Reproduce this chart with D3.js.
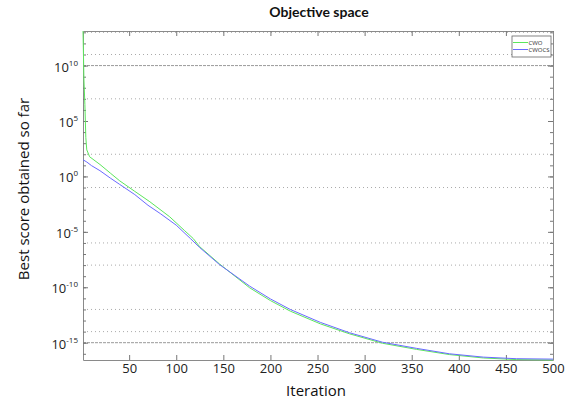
<!DOCTYPE html>
<html>
<head>
<meta charset="utf-8">
<script src="https://cdn.jsdelivr.net/npm/d3@7"></script>
<style>
body { margin: 0; background: #fff; }
text { font-family: "Open Sans", "Noto Sans", sans-serif; }
</style>
</head>
<body>
<script>
// data
var cwoIter  = [1, 2, 3, 4, 5, 6, 8, 19, 30, 40, 56, 72, 93, 109, 118, 125, 146, 178, 200, 221, 253, 284, 319, 355, 390, 426, 461, 500];
var cwoScore = [1.3e13, 5e8, 3.2e6, 3.2e3, 250, 160, 60, 12, 2.0, 0.4, 0.045, 5.2e-3, 2.3e-4, 1.26e-5, 2.5e-6, 4.5e-7, 1.26e-8, 8.9e-11, 6.3e-12, 7.1e-13, 5.0e-14, 6.3e-15, 8.9e-16, 2.5e-16, 8.5e-17, 4.2e-17, 3.0e-17, 2.75e-17];
var cwocsIter  = [1, 5, 10, 19, 30, 40, 56, 70, 83, 100, 115, 125, 146, 178, 200, 221, 253, 284, 319, 355, 390, 426, 461, 500];
var cwocsScore = [32, 20, 9.5, 3.3, 0.71, 0.19, 0.023, 2.5e-3, 4.5e-4, 4.0e-5, 2.5e-6, 3.8e-7, 1.1e-8, 1.26e-10, 8.9e-12, 1.0e-12, 6.8e-14, 7.9e-15, 1.1e-15, 3.1e-16, 1.0e-16, 5.0e-17, 3.6e-17, 3.3e-17];
var xTicks = [50, 100, 150, 200, 250, 300, 350, 400, 450, 500];
var yMajor = [1e10, 1e5, 1e0, 1e-5, 1e-10, 1e-15];
var yMajorExp = ["10", "5", "0", "-5", "-10", "-15"];
var gridDashed = [1e10, 1e-15];
var gridDotted = [1e13, 1e11, 1e7, 1e2, 1e-1, 1e-6, 1e-8, 1e-12, 1e-14];
var legendNames = ["CWO", "CWOCS"];
var legendColors = ["#5ce65c", "#6a6aff"];

var width = 569, height = 405;
var pLeft = 83, pRight = 553, pTop = 31, pBottom = 360;

var svg = d3.select("body").append("svg")
    .attr("width", width)
    .attr("height", height);

var x = d3.scaleLinear().domain([1, 500]).range([pLeft, pRight]);
var y = d3.scaleLog().domain([2.75e-17, 1.32e13]).range([pBottom, pTop]);

var yMinor = d3.range(-16, 14).map(function(e) { return Math.pow(10, e); });

// grid
svg.selectAll(".gdot").data(gridDotted).enter().append("line")
    .attr("x1", pLeft).attr("x2", pRight)
    .attr("y1", function(d) { return y(d); }).attr("y2", function(d) { return y(d); })
    .attr("stroke", "#aaa").attr("stroke-width", 1).attr("stroke-dasharray", "1,3");
svg.selectAll(".gdash").data(gridDashed).enter().append("line")
    .attr("x1", pLeft).attr("x2", pRight)
    .attr("y1", function(d) { return y(d); }).attr("y2", function(d) { return y(d); })
    .attr("stroke", "#999").attr("stroke-width", 1).attr("stroke-dasharray", "3,1");

// axes
function styleAxis(g) {
  g.select(".domain").attr("stroke", "#8a8a8a");
  g.selectAll(".tick line").attr("stroke", "#777");
  g.selectAll("text").attr("fill", "#222").style("font-size", "13px")
      .style("font-family", "'Open Sans', sans-serif");
}

svg.append("g").attr("transform", "translate(0," + pBottom + ")")
    .call(d3.axisBottom(x).tickValues(xTicks).tickSize(-5).tickSizeOuter(0).tickPadding(4))
    .call(styleAxis);
svg.append("g").attr("transform", "translate(0," + pTop + ")")
    .call(d3.axisTop(x).tickValues(xTicks).tickSize(-5).tickSizeOuter(0).tickFormat(""))
    .call(styleAxis);

svg.append("g").attr("transform", "translate(" + pLeft + ",0)")
    .call(d3.axisLeft(y).tickValues(yMinor).tickSize(-3).tickSizeOuter(0).tickFormat(""))
    .call(styleAxis);
svg.append("g").attr("transform", "translate(" + pLeft + ",0)")
    .call(d3.axisLeft(y).tickValues(yMajor).tickSize(-5).tickSizeOuter(0).tickFormat(""))
    .call(styleAxis).select(".domain").remove();
svg.append("g").attr("transform", "translate(" + pRight + ",0)")
    .call(d3.axisRight(y).tickValues(yMinor).tickSize(-3).tickSizeOuter(0).tickFormat(""))
    .call(styleAxis);
svg.append("g").attr("transform", "translate(" + pRight + ",0)")
    .call(d3.axisRight(y).tickValues(yMajor).tickSize(-5).tickSizeOuter(0).tickFormat(""))
    .call(styleAxis).select(".domain").remove();

// y tick labels with superscripts
var yl = svg.selectAll(".ylab").data(yMajor).enter().append("text")
    .attr("x", 78)
    .attr("y", function(d) { return y(d) + 6; })
    .attr("text-anchor", "end")
    .attr("fill", "#222")
    .style("font-size", "13px");
yl.append("tspan").text("10");
yl.append("tspan").attr("dy", -6).style("font-size", "8px")
    .text(function(d, i) { return yMajorExp[i]; });

// lines
var line = d3.line()
    .x(function(d) { return x(d[0]); })
    .y(function(d) { return y(d[1]); });

svg.append("path")
    .datum(d3.zip(cwoIter, cwoScore))
    .attr("d", line)
    .attr("fill", "none")
    .attr("stroke", legendColors[0])
    .attr("stroke-width", 1);
svg.append("path")
    .datum(d3.zip(cwocsIter, cwocsScore))
    .attr("d", line)
    .attr("fill", "none")
    .attr("stroke", legendColors[1])
    .attr("stroke-width", 1);

// legend
var lg = svg.append("g").attr("transform", "translate(512,36)");
lg.append("rect").attr("width", 39).attr("height", 21)
    .attr("fill", "#fff").attr("stroke", "#666").attr("stroke-width", 0.8);
legendNames.forEach(function(n, i) {
  lg.append("line").attr("x1", 1).attr("x2", 16)
      .attr("y1", 6.5 + i * 7).attr("y2", 6.5 + i * 7)
      .attr("stroke", legendColors[i]).attr("stroke-width", 1);
  lg.append("text").attr("x", 16.5).attr("y", 8.5 + i * 7)
      .attr("fill", "#333").style("font-size", "6px").text(n);
});

// titles
svg.append("text").attr("x", 319).attr("y", 17)
    .attr("text-anchor", "middle").attr("fill", "#111")
    .style("font-family", "Lato, sans-serif")
    .style("font-size", "14px").style("font-weight", "bold")
    .text("Objective space");
svg.append("text").attr("x", 316).attr("y", 396)
    .attr("text-anchor", "middle").attr("fill", "#111")
    .style("font-size", "15px")
    .text("Iteration");
svg.append("text")
    .attr("transform", "translate(29,189) rotate(-90)")
    .attr("text-anchor", "middle").attr("fill", "#111")
    .style("font-size", "15px")
    .text("Best score obtained so far");
</script>
</body>
</html>
